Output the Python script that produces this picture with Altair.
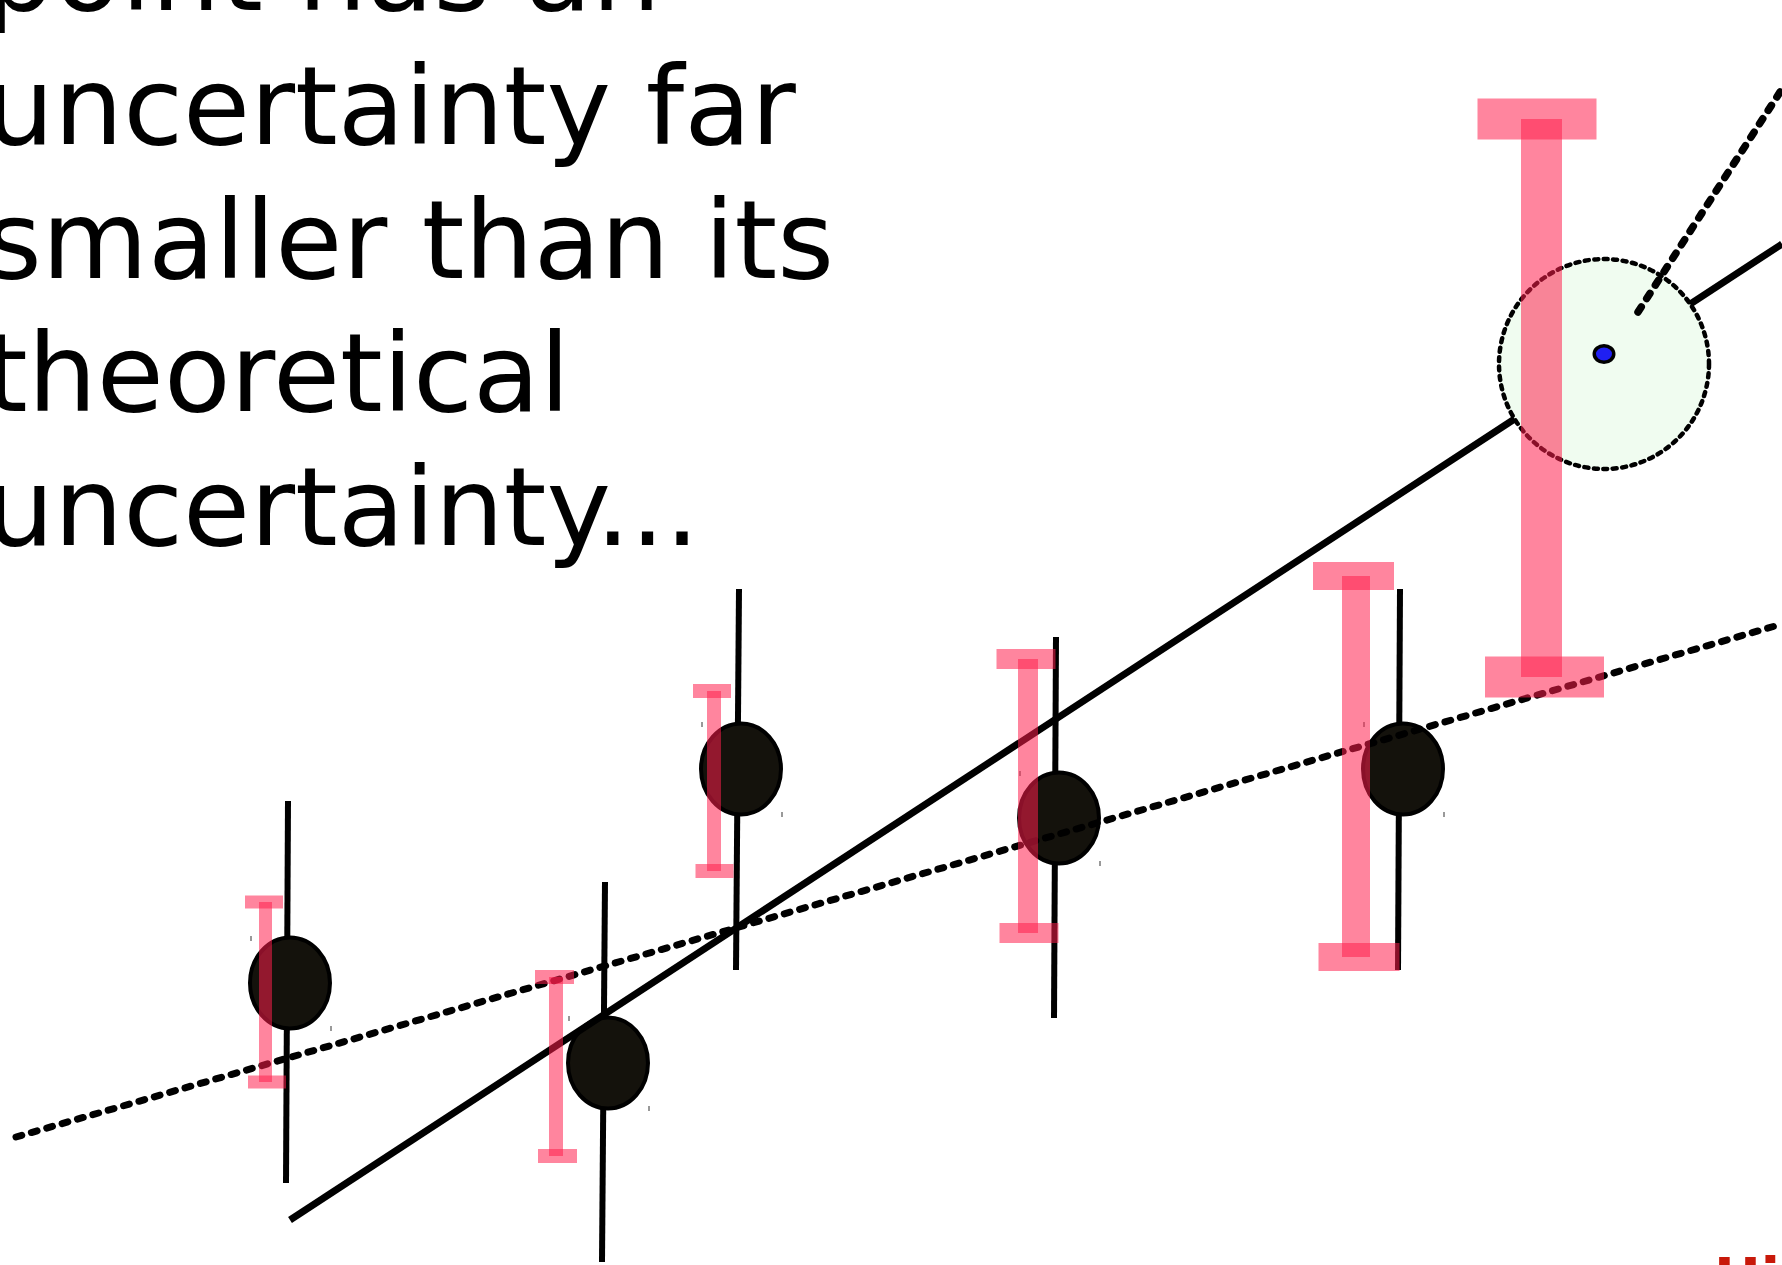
import altair as alt
import pandas as pd

# Canvas units: one unit per pixel, y measured downward from the top edge
W, H = 1782, 1265

# Caption lines (left aligned, partly running off the left/top edges)
caption_lines = ["point has an", "uncertainty far", "smaller than its", "theoretical", "uncertainty..."]
caption_baselines = [10, 144, 278, 411, 545]
caption_x = -15

# Measured points (black ellipses)
pt_x = [290, 608, 741, 1059, 1403]
pt_y = [983, 1063, 769, 818, 769]

# Theoretical uncertainty bars (thin black, slightly tilted)
eb_top_x = [288, 605, 739, 1056, 1400]
eb_top_y = [801, 882, 589, 637, 589]
eb_bot_x = [286, 602, 736, 1054, 1398]
eb_bot_y = [1183, 1262, 970, 1018, 970]

# Quoted uncertainty bars (pink I-beams)
pk_x = [265.5, 556, 714, 1028, 1356, 1541.5]
pk_top = [902, 977, 691, 659, 576, 119]
pk_bot = [1082, 1156, 871, 933, 957, 677]
pk_bar_w = [13, 14, 14, 20, 28, 41]
pk_cap_w = [38, 39, 38, 59, 81, 119]
pk_cap_top_x = [264, 554.5, 712, 1026, 1353.5, 1537]
pk_cap_bot_x = [267, 557.5, 714.5, 1029, 1359, 1544.5]

# Fitted lines
solid_x = [290, 1782]
solid_y = [1220, 244]
dashed_x = [16, 1782]
dashed_y = [1137, 624]
pointer_x = [1638, 1782]
pointer_y = [312, 89]

# Highlighted outlier
outlier_x = [1604]
outlier_y = [354]
halo_x = [1604]
halo_y = [364]

# Red label at the lower-right corner
red_label = ["Hi"]
red_label_x = [1714]
red_label_y = [1297]

xs = alt.Scale(domain=[0, W], nice=False, zero=False)
ys = alt.Scale(domain=[0, H], nice=False, zero=False, reverse=True)
X = lambda f="x": alt.X(f, type="quantitative", scale=xs, axis=None)
Y = lambda f="y": alt.Y(f, type="quantitative", scale=ys, axis=None)

ELLIPSE = "M -0.879 0 A 0.879 1 0 1 1 0.879 0 A 0.879 1 0 1 1 -0.879 0 Z"
DOT = "M -1 0 A 1 0.846 0 1 1 1 0 A 1 0.846 0 1 1 -1 0 Z"

caption = alt.Chart(pd.DataFrame({
    "x": [caption_x] * len(caption_lines), "y": caption_baselines, "t": caption_lines
})).mark_text(align="left", baseline="alphabetic", font="DejaVu Sans",
              fontSize=109, color="black").encode(x=X(), y=Y(), text="t:N")

rules = alt.Chart(pd.DataFrame({
    "x": eb_top_x, "y": eb_top_y, "x2": eb_bot_x, "y2": eb_bot_y
})).mark_rule(color="black", strokeWidth=6, strokeCap="butt").encode(
    x=X(), y=Y(), x2="x2:Q", y2="y2:Q")

points = alt.Chart(pd.DataFrame({"x": pt_x, "y": pt_y})).mark_point(
    shape=ELLIPSE, size=8281, filled=True, fill="#14120c", fillOpacity=1,
    stroke="black", strokeWidth=4, opacity=1).encode(x=X(), y=Y())

solid = alt.Chart(pd.DataFrame({"x": solid_x, "y": solid_y})).mark_line(
    color="black", strokeWidth=7, strokeCap="butt").encode(x=X(), y=Y())

dashed = alt.Chart(pd.DataFrame({"x": dashed_x, "y": dashed_y})).mark_line(
    color="black", strokeWidth=7, strokeCap="round", strokeDash=[6, 10]).encode(x=X(), y=Y())

halo = alt.Chart(pd.DataFrame({"x": halo_x, "y": halo_y})).mark_point(
    shape="circle", size=210 * 210, filled=True, fill="#f0fcf0", fillOpacity=1,
    stroke="black", strokeWidth=4.5, strokeDash=[4, 5.5], strokeCap="round", opacity=1
).encode(x=X(), y=Y())

pointer = alt.Chart(pd.DataFrame({"x": pointer_x, "y": pointer_y})).mark_line(
    color="black", strokeWidth=7.5, strokeCap="round", strokeDash=[6, 10]).encode(x=X(), y=Y())

outlier = alt.Chart(pd.DataFrame({"x": outlier_x, "y": outlier_y})).mark_point(
    shape=DOT, size=380, filled=True, fill="#1f1ff2", fillOpacity=1,
    stroke="black", strokeWidth=3.5, opacity=1).encode(x=X(), y=Y())

# Tiny corner ticks beside each measured point
tick_rows = []
for cx, cy in zip(pt_x, pt_y):
    tick_rows.append({"x": cx - 39, "y": cy - 47, "y2": cy - 42})
    tick_rows.append({"x": cx + 41, "y": cy + 43, "y2": cy + 48})
ticks = alt.Chart(pd.DataFrame(tick_rows)).mark_rule(
    color="#777", strokeWidth=1.5).encode(x=X(), y=Y(), y2="y2:Q")

# Pink I-beams: a stem plus two caps
rect_rows = []
for cx, t, b, bw, cw, ctx, cbx in zip(pk_x, pk_top, pk_bot, pk_bar_w, pk_cap_w,
                                     pk_cap_top_x, pk_cap_bot_x):
    rect_rows.append({"x": cx - bw / 2, "x2": cx + bw / 2, "y": t, "y2": b})
    rect_rows.append({"x": ctx - cw / 2, "x2": ctx + cw / 2, "y": t - bw / 2, "y2": t + bw / 2})
    rect_rows.append({"x": cbx - cw / 2, "x2": cbx + cw / 2, "y": b - bw / 2, "y2": b + bw / 2})
pink = alt.Chart(pd.DataFrame(rect_rows)).mark_rect(
    fill="#ff1e4b", fillOpacity=0.54, strokeWidth=0).encode(
    x=X(), x2="x2:Q", y=Y(), y2="y2:Q")

red = alt.Chart(pd.DataFrame({"x": red_label_x, "y": red_label_y, "t": red_label})).mark_text(
    align="left", baseline="alphabetic", font="DejaVu Sans", fontWeight="bold",
    fontSize=56, color="#c8190a").encode(x=X(), y=Y(), text="t:N")

chart = alt.layer(
    caption, rules, points, solid, dashed, halo, pointer, outlier, ticks, pink, red
).properties(
    width=W, height=H, padding=0, autosize=alt.AutoSizeParams(type="none"),
    background="white"
).configure_view(stroke=None)

chart.save("out.html", embed_options={"renderer": "svg", "actions": False})
